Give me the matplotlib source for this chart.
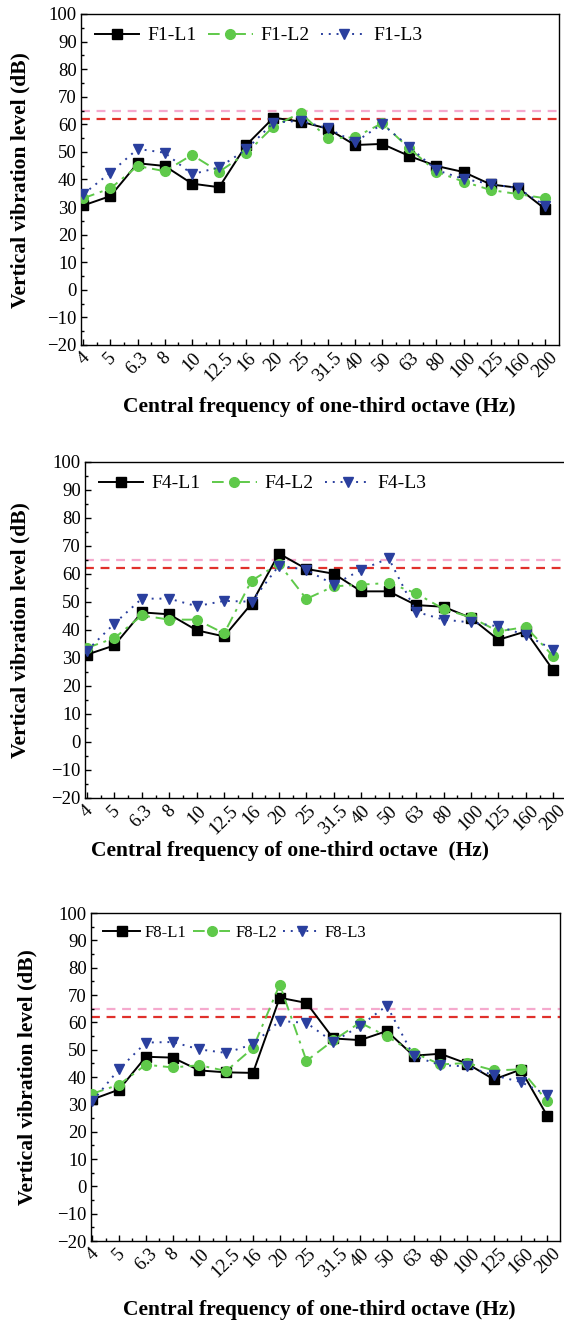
import matplotlib
matplotlib.use("Agg")
import matplotlib.pyplot as plt
from matplotlib.ticker import MultipleLocator

plt.rcParams['font.family'] = ['Liberation Serif', 'DejaVu Serif']

# 1/3 octave centre frequencies
freqs = ['4', '5', '6.3', '8', '10', '12.5', '16', '20', '25', '31.5',
         '40', '50', '63', '80', '100', '125', '160', '200']

# floor 1
f1_l1 = [30.6, 34.0, 45.9, 44.9, 38.5, 37.2, 52.5, 62.4, 61.0, 58.4,
         52.5, 52.9, 48.5, 44.9, 42.7, 38.2, 37.0, 29.3]
f1_l2 = [33.2, 36.8, 44.9, 43.0, 48.9, 42.8, 49.5, 59.2, 64.2, 54.9,
         55.3, 60.4, 51.3, 42.8, 39.2, 36.2, 34.7, 33.2]
f1_l3 = [34.7, 42.5, 51.1, 49.7, 41.9, 44.4, 50.9, 60.6, 61.3, 58.6,
         53.5, 60.1, 51.9, 43.4, 40.2, 38.4, 36.8, 30.5]

# floor 4
f4_l1 = [31.2, 34.5, 46.3, 45.6, 39.9, 37.7, 49.4, 67.3, 61.8, 60.1,
         53.8, 53.8, 48.9, 48.3, 44.3, 36.5, 39.5, 25.6]
f4_l2 = [33.6, 37.1, 45.2, 43.7, 43.7, 38.8, 57.6, 63.7, 51.1, 55.6,
         56.2, 56.8, 53.1, 47.5, 44.5, 39.5, 41.1, 30.6]
f4_l3 = [32.6, 42.3, 51.2, 51.2, 48.5, 50.4, 50.1, 63.0, 61.5, 56.2,
         61.5, 65.6, 46.5, 43.7, 42.7, 41.3, 38.2, 33.0]

# floor 8
f8_l1 = [31.8, 35.4, 47.4, 47.1, 42.4, 41.7, 41.5, 69.0, 67.1, 54.1,
         53.5, 56.8, 47.8, 48.5, 44.9, 39.1, 42.7, 25.7]
f8_l2 = [33.9, 37.2, 44.5, 43.5, 44.3, 42.2, 50.6, 73.8, 45.9, 53.4,
         59.9, 54.9, 48.9, 44.6, 45.1, 42.4, 42.8, 31.1]
f8_l3 = [31.1, 42.9, 52.6, 52.8, 50.1, 48.8, 52.0, 60.5, 59.8, 52.8,
         58.7, 66.1, 47.7, 44.3, 43.9, 40.6, 38.2, 33.4]

limit_red = 62
limit_pink = 65

W, H = 564, 1329
fig = plt.figure(figsize=(W / 100, H / 100), dpi=100)

black = '#000000'
green = '#5fc94a'
blue = '#2a3f9e'


def px_axes(left, top, right, bottom):
    return fig.add_axes([left / W, 1 - bottom / H, (right - left) / W, (bottom - top) / H])


def draw_panel(ax, name, l1, l2, l3, xlim, legsize, leg_kw):
    x = list(range(len(freqs)))
    ax.axhline(limit_pink, color='#f5a9cd', lw=1.6, ls=(0, (4, 3)), zorder=1)
    ax.axhline(limit_red, color='#e0302a', lw=1.6, ls=(0, (4, 3)), zorder=1)
    ax.plot(x, l1, color=black, lw=1.4, ls='-', marker='s', ms=6.5,
            label=name + '-L1', zorder=3)
    ax.plot(x, l2, color=green, lw=1.4, ls=(0, (6, 3, 1.5, 3)), marker='o', ms=7,
            label=name + '-L2', zorder=4)
    ax.plot(x, l3, color=blue, lw=1.4, ls=(0, (1, 3)), marker='v', ms=7,
            label=name + '-L3', zorder=5)
    ax.set_xlim(*xlim)
    ax.set_ylim(-20, 100)
    ax.yaxis.set_major_locator(MultipleLocator(10))
    ax.yaxis.set_minor_locator(MultipleLocator(5))
    ax.set_xticks(x)
    ax.set_xticks([i + 0.5 for i in x[:-1]], minor=True)
    ax.set_xticklabels(freqs, rotation=45, ha='center', va='top', fontsize=13.5)
    ax.tick_params(axis='both', which='major', direction='in', length=4.5, width=1,
                   labelsize=13.5, top=False, right=False, pad=3)
    ax.tick_params(axis='both', which='minor', direction='in', length=2.5, width=1,
                   top=False, right=False)
    for sp in ax.spines.values():
        sp.set_linewidth(1.0)
    ax.legend(loc='upper left', ncol=3, frameon=False, fontsize=legsize,
              numpoints=1, bbox_to_anchor=(0.012, 0.985), borderaxespad=0, **leg_kw)


big_leg = dict(handlelength=2.3, handletextpad=0.4, columnspacing=0.6)
small_leg = dict(handlelength=2.2, handletextpad=0.3, columnspacing=0.4)

ax1 = px_axes(81, 14, 559, 345)
draw_panel(ax1, 'F1', f1_l1, f1_l2, f1_l3, (-0.085, 17.51), 14, big_leg)

ax2 = px_axes(85, 462, 567, 798)
draw_panel(ax2, 'F4', f4_l1, f4_l2, f4_l3, (-0.07, 17.5), 14, big_leg)

ax3 = px_axes(91, 913, 560, 1241)
draw_panel(ax3, 'F8', f8_l1, f8_l2, f8_l3, (-0.05, 17.47), 12, small_leg)

ylab = 'Vertical vibration level (dB)'
xlab = 'Central frequency of one-third octave (Hz)'
for yc, xc in [(180, 20), (630, 20), (1077, 27)]:
    fig.text(xc / W, 1 - yc / H, ylab, rotation=90, ha='center', va='center',
             fontsize=15.5, fontweight='bold')
for (xc, yc, t) in [(319, 407, xlab), (290, 851, 'Central frequency of one-third octave  (Hz)'),
                    (319, 1310, xlab)]:
    fig.text(xc / W, 1 - yc / H, t, ha='center', va='center',
             fontsize=15.5, fontweight='bold')

fig.savefig('out.png', dpi=100)
